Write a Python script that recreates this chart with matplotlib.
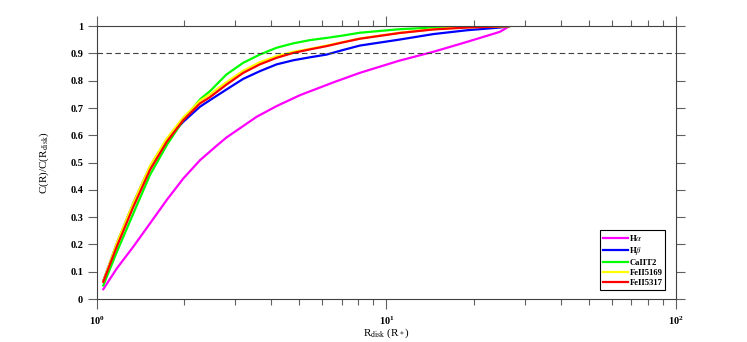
import numpy as np
import matplotlib
matplotlib.use('Agg')
import matplotlib.pyplot as plt

plt.rcParams['font.family'] = ['Liberation Serif', 'DejaVu Serif']
plt.rcParams['mathtext.fontset'] = 'stix'

# Данные кривых
r_halpha = [1.051, 1.17, 1.335, 1.524, 1.741, 1.987, 2.269, 2.59, 2.8, 3.56, 4.17, 5.02,
            6.55, 8.09, 11.1, 14.5, 18.9, 24.6, 26.0, 26.5]
c_halpha = [0.036, 0.112, 0.192, 0.277, 0.363, 0.442, 0.509, 0.562, 0.592, 0.668, 0.707, 0.747,
            0.794, 0.829, 0.874, 0.906, 0.942, 0.979, 0.994, 1.0]

r_lines = [1.051, 1.17, 1.335, 1.524, 1.741, 1.987, 2.269, 2.456, 2.80, 3.20, 3.65, 4.17,
           4.76, 5.44, 6.21, 7.09, 8.09, 11.1, 14.5, 18.9, 24.6, 26.5]
c_hbeta = [0.066, 0.203, 0.352, 0.485, 0.584, 0.650, 0.705, 0.729, 0.768, 0.807, 0.835, 0.860,
           0.875, 0.886, 0.896, 0.913, 0.929, 0.951, 0.971, 0.985, 0.995, 1.0]
c_caii = [0.050, 0.172, 0.314, 0.455, 0.564, 0.656, 0.732, 0.762, 0.823, 0.866, 0.896, 0.921,
          0.937, 0.949, 0.957, 0.966, 0.976, 0.989, 0.995, 0.999, 1.0, 1.0]
c_fe5169 = [0.066, 0.205, 0.353, 0.488, 0.588, 0.666, 0.727, 0.750, 0.795, 0.837, 0.868, 0.890,
            0.906, 0.917, 0.929, 0.942, 0.955, 0.976, 0.989, 0.996, 0.999, 1.0]
c_fe5317 = [0.063, 0.192, 0.338, 0.473, 0.576, 0.656, 0.717, 0.740, 0.786, 0.829, 0.860, 0.884,
            0.902, 0.915, 0.927, 0.941, 0.954, 0.975, 0.988, 0.995, 0.999, 1.0]

fig = plt.figure(figsize=(7.47, 3.42), dpi=100)
ax = fig.add_axes([0.1299, 0.1257, 0.775, 0.7977])

lw = 1.6
ax.plot(r_halpha, c_halpha, color='#ff00ff', lw=lw, label=r'H$\alpha$')
ax.plot(r_lines, c_hbeta, color='#0000ff', lw=lw, label=r'H$\beta$')
ax.plot(r_lines, c_caii, color='#00ff00', lw=lw, label='CaIIT2')
ax.plot(r_lines, c_fe5169, color='#ffff00', lw=lw, label='FeII5169')
ax.plot(r_lines, c_fe5317, color='#ff0000', lw=lw, label='FeII5317')
ax.axhline(0.9, color='#404040', lw=0.8, ls=(0, (5, 3)))

ax.set_xscale('log')
ax.set_xlim(1, 100)
ax.set_ylim(0, 1)
ax.set_yticks(np.arange(0, 1.01, 0.1))
ax.set_yticklabels(['0', '0.1', '0.2', '0.3', '0.4', '0.5', '0.6', '0.7', '0.8', '0.9', '1'])

for s in ax.spines.values():
    s.set_color('#404040')
    s.set_linewidth(0.8)
ax.tick_params(which='both', direction='out', top=True, right=True, color='#606060',
               labelsize=7.5, width=0.8)
ax.tick_params(which='major', length=7.5)
ax.tick_params(which='minor', length=4)
ax.tick_params(axis='y', which='major', length=6.5)
for lab in ax.get_xticklabels() + ax.get_yticklabels():
    lab.set_fontweight('bold')

ax.set_xlabel(r'R$_{\rm disk}$ (R$_*$)', fontsize=8, labelpad=0)
ax.set_ylabel(r'C(R)/C(R$_{\rm disk}$)', fontsize=8, labelpad=14)

leg = ax.legend(loc='lower right', bbox_to_anchor=(0.981, 0.033), borderaxespad=0,
                fancybox=False, edgecolor='black', framealpha=1,
                prop={'weight': 'bold', 'size': 6.2},
                handlelength=2.9, handletextpad=0.2, labelspacing=0.25, borderpad=0.3)
leg.get_frame().set_linewidth(0.8)

fig.savefig('out.png', dpi=100)
